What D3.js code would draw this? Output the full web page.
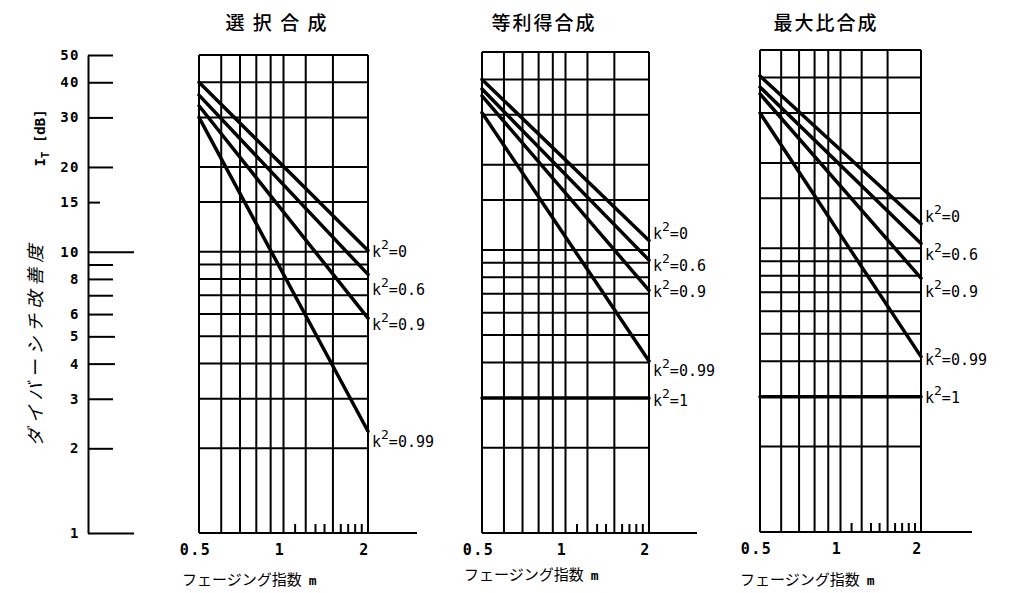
<!DOCTYPE html>
<html>
<head>
<meta charset="utf-8">
<script src="https://cdn.jsdelivr.net/npm/d3@7"></script>
<style>
  body { margin: 0; background: #fff; }
  text { fill: #000; }
</style>
</head>
<body>
<div id="chart"></div>
<script>
// ---- data ----
var titles = ["選 択 合 成", "等利得合成", "最大比合成"];
var kLabels = ["0", "0.6", "0.9", "0.99", "1"];
var mPoints = [0.5, 2];
// diversity improvement [dB] at m = 0.5 and m = 2, one row per k^2
var selValues = [[40, 10.1], [36, 8.3], [33, 5.8], [30, 2.3]];
var egcValues = [[40, 10.8], [37, 9.2], [35, 7.2], [30.5, 4.05], [3, 3]];
var mrcValues = [[40.5, 12.2], [37, 10.4], [35, 7.85], [30, 4.15], [3, 3]];
var gridX = [0.5, 0.6, 0.7, 0.8, 0.9, 1, 1.2, 1.5, 2];
var minorX = [1.1, 1.3, 1.4, 1.6, 1.7, 1.8, 1.9];
var gridY = [1, 2, 3, 4, 5, 6, 7, 8, 9, 10, 15, 20, 30, 40, 50];
var yTickLabels = [1, 2, 3, 4, 5, 6, 8, 10, 15, 20, 30, 40, 50];
var xTickLabels = [0.5, 1, 2];

var width = 1010, height = 593;
var mono = "'DejaVu Sans Mono', 'Liberation Mono', monospace";
var jp = "'Noto Sans CJK JP', sans-serif";

var svg = d3.select("#chart").append("svg")
    .attr("width", width)
    .attr("height", height);

///////// left axis

var yLeft = d3.scaleLog().domain([1, 50]).range([533, 55]);

var tickLen = function(d) {
  if (d === 10 || d === 1) return 46;
  if (d === 15) return 12;
  if (d === 5 || d === 4) return 27;
  return 25;
};

var gLeft = svg.append("g")
    .attr("transform", "translate(88,0)")
    .call(d3.axisLeft(yLeft)
      .tickValues(gridY)
      .tickSizeInner(-25)
      .tickSizeOuter(0)
      .tickPadding(8)
      .tickFormat(function(d) { return yTickLabels.indexOf(d) >= 0 ? d : ""; }));

gLeft.select(".domain").attr("stroke", "#000").attr("stroke-width", 2);
gLeft.selectAll(".tick line")
    .attr("stroke", "#000")
    .attr("stroke-width", 2)
    .attr("x2", tickLen);
gLeft.selectAll(".tick text")
    .style("font-family", mono)
    .style("font-size", "14px")
    .style("font-weight", "bold")
    .style("letter-spacing", "1.5px");

svg.append("text")
    .attr("transform", "translate(42,343) rotate(-90)")
    .attr("text-anchor", "middle")
    .style("font-family", jp)
    .style("font-size", "18px")
    .style("letter-spacing", "5px")
    .style("font-style", "italic")
    .text("ダイバーシチ改善度");

var it = svg.append("text")
    .attr("transform", "translate(45,138) rotate(-90)")
    .attr("text-anchor", "middle")
    .style("font-family", mono)
    .style("font-size", "14px")
    .style("font-weight", "bold");
it.append("tspan").text("I");
it.append("tspan").attr("dy", 4).style("font-size", "11px").text("T");
it.append("tspan").attr("dy", -4).text("  [dB]");

///////// panels

var panels = [
  {title: titles[0], values: selValues, x0: 199, x1: 368, yTop: 55, yBot: 533,
   labelDy: [7, 21, 12, 16], titleX: 277, axisEnd: 417, xTitleX: 182, xTitleY: 585},
  {title: titles[1], values: egcValues, x0: 482, x1: 649, yTop: 52, yBot: 533,
   labelDy: [-1, 11, 7, 15, 8], titleX: 544, axisEnd: 697, xTitleX: 464, xTitleY: 580},
  {title: titles[2], values: mrcValues, x0: 760, x1: 921, yTop: 50, yBot: 532,
   labelDy: [-2, 17, 19, 8, 6], titleX: 826, axisEnd: 972, xTitleX: 740, xTitleY: 585}
];

panels.forEach(function(p) {
  var x = d3.scaleLog().domain([0.5, 2]).range([p.x0, p.x1]);
  var y = d3.scaleLog().domain([1, 50]).range([p.yBot, p.yTop]);
  var g = svg.append("g");

  // title
  g.append("text")
      .attr("x", p.titleX)
      .attr("y", 30)
      .attr("text-anchor", "middle")
      .style("font-family", jp)
      .style("font-size", "19px")
      .style("font-weight", "500")
      .style("letter-spacing", "2px")
      .text(p.title);

  // grid
  g.append("g").selectAll("line")
      .data(gridX)
    .enter().append("line")
      .attr("x1", x).attr("x2", x)
      .attr("y1", p.yTop).attr("y2", p.yBot)
      .attr("stroke", "#000")
      .attr("stroke-width", 2);

  g.append("g").selectAll("line")
      .data(gridY)
    .enter().append("line")
      .attr("x1", p.x0).attr("x2", p.x1)
      .attr("y1", y).attr("y2", y)
      .attr("stroke", "#000")
      .attr("stroke-width", 2);

  // base line running out to the right
  g.append("line")
      .attr("x1", p.x0).attr("x2", p.axisEnd)
      .attr("y1", p.yBot).attr("y2", p.yBot)
      .attr("stroke", "#000")
      .attr("stroke-width", 2);

  // minor ticks
  g.append("g").selectAll("line")
      .data(minorX)
    .enter().append("line")
      .attr("x1", x).attr("x2", x)
      .attr("y1", p.yBot).attr("y2", p.yBot - 9)
      .attr("stroke", "#000")
      .attr("stroke-width", 2);

  // x tick labels
  g.append("g")
      .attr("transform", "translate(0," + p.yBot + ")")
      .call(d3.axisBottom(x).tickValues(xTickLabels).tickSize(0).tickPadding(11)
        .tickFormat(function(d) { return d; }))
      .call(function(a) {
        a.select(".domain").remove();
        a.selectAll("text")
          .attr("dx", -4)
          .style("font-family", mono)
          .style("font-size", "15px")
          .style("font-weight", "bold")
          .style("letter-spacing", "1.5px");
      });

  // x title
  var xt = g.append("text")
      .attr("x", p.xTitleX)
      .attr("y", p.xTitleY)
      .style("font-family", jp)
      .style("font-size", "15px");
  xt.append("tspan").text("フェージング指数");
  xt.append("tspan").attr("dx", 7).style("font-family", mono).style("font-size", "13px")
      .style("font-weight", "bold").text("m");

  // curves
  var line = d3.line()
      .x(function(d, i) { return x(mPoints[i]); })
      .y(function(d) { return y(d); });

  g.append("g").selectAll("path")
      .data(p.values)
    .enter().append("path")
      .attr("d", line)
      .attr("fill", "none")
      .attr("stroke", "#000")
      .attr("stroke-width", 3.5)
      .attr("stroke-linecap", "round");

  // k^2 labels
  var lab = g.append("g").selectAll("text")
      .data(p.values)
    .enter().append("text")
      .attr("x", p.x1 + 4)
      .attr("y", function(d, i) { return y(d[1]) + p.labelDy[i]; })
      .style("font-family", mono)
      .style("font-size", "15px");
  lab.append("tspan").text("k");
  lab.append("tspan").attr("dy", -8).style("font-size", "13px").text("2");
  lab.append("tspan").attr("dy", 8).text(function(d, i) { return "=" + kLabels[i]; });
});
</script>
</body>
</html>
